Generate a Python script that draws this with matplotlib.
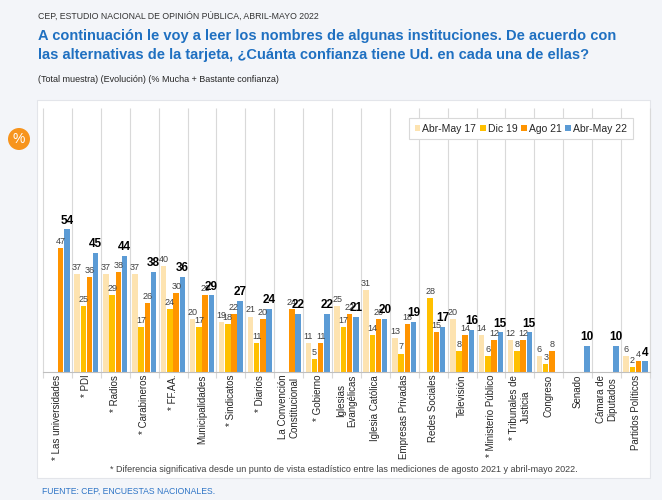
import numpy as np
import matplotlib
matplotlib.use("Agg")
import matplotlib.pyplot as plt
from matplotlib.patches import Rectangle, Ellipse

plt.rcParams['font.family'] = ['Liberation Sans', 'DejaVu Sans']

categories = [
    "* Las universidades", "* PDI", "* Radios", "* Carabineros", "* FF.AA.",
    "Municipalidades", "* Sindicatos", "* Diarios", "La Convención\nConstitucional",
    "* Gobierno", "Iglesias\nEvangélicas", "Iglesia Católica", "Empresas Privadas",
    "Redes Sociales", "Televisión", "* Ministerio Público", "* Tribunales de\nJusticia",
    "Congreso", "Senado", "Cámara de\nDiputados", "Partidos Políticos",
]
nan = np.nan
abr17 = [nan, 37, 37, 37, 40, 20, 19, 21, nan, 11, 25, 31, 13, nan, 20, 14, 12, 6, nan, nan, 6]
dic19 = [nan, 25, 29, 17, 24, 17, 18, 11, nan, 5, 17, 14, 7, 28, 8, 6, 8, 3, nan, nan, 2]
ago21 = [47, 36, 38, 26, 30, 29, 22, 20, 24, 11, 22, 20, 18, 15, 14, 12, 12, 8, nan, nan, 4]
abr22 = [54, 45, 44, 38, 36, 29, 27, 24, 22, 22, 21, 20, 19, 17, 16, 15, 15, nan, 10, 10, 4]
series_names = ["Abr-May 17", "Dic 19", "Ago 21", "Abr-May 22"]
colors = ["#FDE3B0", "#FFC000", "#FF9400", "#5B9BD5"]

W, H = 662, 500
fig = plt.figure(figsize=(W / 100, H / 100), dpi=100, facecolor="#F3F5F9")

# white panel
panel = Rectangle((37 / W, 1 - 478 / H), (650 - 37) / W, (478 - 100) / H,
                  transform=fig.transFigure, facecolor="white",
                  edgecolor="#E3E5EA", lw=0.8, zorder=-5)
fig.patches.append(panel)

ax = fig.add_axes([43 / W, 1 - 372 / H, (650 - 43) / W, (372 - 108) / H])
ax.set_facecolor("none")
n = len(categories)
x = np.arange(n)
ax.set_xlim(-0.5, n - 0.5)
ax.set_ylim(0, 100)

ax.vlines(np.arange(n + 1) - 0.5, -2.2, 100, colors="#D9D9D9", lw=0.8, clip_on=False, zorder=1)

pitch, bw = 0.215, 0.19
data = [abr17, dic19, ago21, abr22]
for i, (vals, c) in enumerate(zip(data, colors)):
    xs = x + (i - 1.5) * pitch
    v = np.array(vals, dtype=float)
    ax.bar(xs, v, width=bw, color=c, zorder=2, label=series_names[i])
    for xi, vi in zip(xs, v):
        if np.isnan(vi):
            continue
        if i == 3:
            ax.annotate(f"{int(vi)}", (xi, vi), xytext=(0, 2), textcoords="offset points",
                        ha="center", va="bottom", fontsize=8.5, fontweight="bold",
                        color="black", zorder=4)
        else:
            ax.annotate(f"{int(vi)}", (xi, vi), xytext=(0, 1.5), textcoords="offset points",
                        ha="center", va="bottom", fontsize=6.5, color="#404040", zorder=4)

for s in ["top", "right", "left"]:
    ax.spines[s].set_visible(False)
ax.spines["bottom"].set_color("#BFBFBF")
ax.spines["bottom"].set_linewidth(0.8)
ax.set_yticks([])
ax.set_xticks(x)
ax.set_xticklabels(categories, rotation=90, fontsize=7, color="#262626",
                   ha="center", va="top", multialignment="center")
ax.tick_params(axis="x", length=0, pad=2)

leg = ax.legend(loc="upper right", bbox_to_anchor=(633 / W, 1 - 118 / H),
                bbox_transform=fig.transFigure, ncol=4, fontsize=7.5, frameon=True,
                handlelength=0.55, handleheight=0.55, handletextpad=0.2,
                columnspacing=0.35, borderpad=0.55, borderaxespad=0,
                fancybox=False, framealpha=1)
leg.get_frame().set_edgecolor("#D9D9D9")
leg.get_frame().set_linewidth(0.8)
for t in leg.get_texts():
    t.set_color("#262626")

# header texts
fig.text(38 / W, 1 - 16 / H, "CEP, ESTUDIO NACIONAL DE OPINIÓN PÚBLICA, ABRIL-MAYO 2022",
         fontsize=6.3, color="#333333", va="center", ha="left")
fig.text(38 / W, 1 - 36 / H,
         "A continuación le voy a leer los nombres de algunas instituciones. De acuerdo con",
         fontsize=10.5, fontweight="bold", color="#1F70C1", va="center", ha="left")
fig.text(38 / W, 1 - 55 / H,
         "las alternativas de la tarjeta, ¿Cuánta confianza tiene Ud. en cada una de ellas?",
         fontsize=10.5, fontweight="bold", color="#1F70C1", va="center", ha="left")
fig.text(38 / W, 1 - 79 / H, "(Total muestra) (Evolución) (% Mucha + Bastante confianza)",
         fontsize=6.5, color="#262626", va="center", ha="left")

# percent badge
fig.patches.append(Ellipse((19 / W, 1 - 139 / H), 22 / W, 22 / H, transform=fig.transFigure,
                           facecolor="#F7941D", edgecolor="none", zorder=3))
fig.text(19 / W, 1 - 139 / H, "%", fontsize=10, color="white", ha="center", va="center",
         zorder=4)

fig.text(344 / W, 1 - 470 / H,
         "* Diferencia significativa desde un punto de vista estadístico entre las mediciones de agosto 2021 y abril-mayo 2022.",
         fontsize=6.5, color="#404040", ha="center", va="center")
fig.text(42 / W, 1 - 491 / H, "FUENTE: CEP, ENCUESTAS NACIONALES.", fontsize=6.2,
         color="#2E75C6", ha="left", va="center")

fig.savefig("out.png", dpi=100, facecolor=fig.get_facecolor())
